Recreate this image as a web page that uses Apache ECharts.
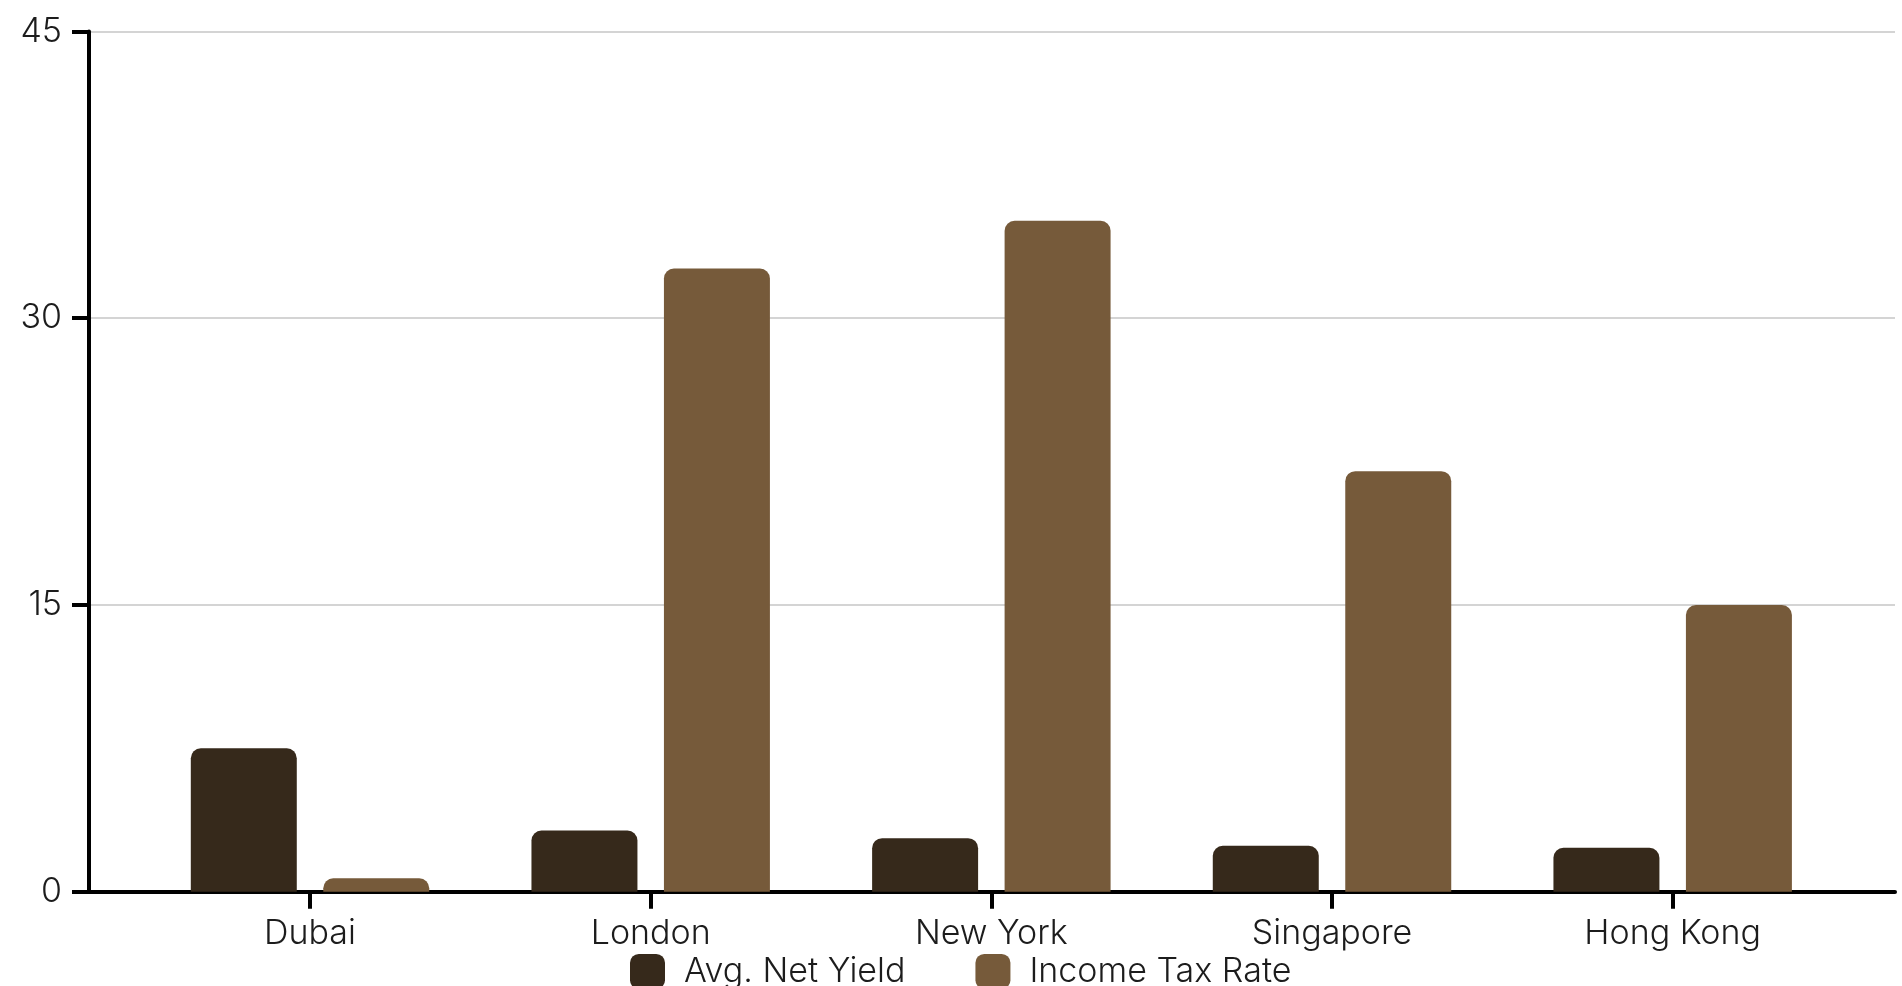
<!DOCTYPE html>
<html>
<head>
<meta charset="utf-8">
<title>Net Yield vs Income Tax</title>
<script src="https://cdn.jsdelivr.net/npm/echarts@6/dist/echarts.min.js"></script>
<style>
  html, body { margin: 0; padding: 0; background: #ffffff; }
  #chart { width: 1902px; height: 986px; }
</style>
</head>
<body>
<div id="chart"></div>
<script>
// Cities compared
const cities = ['Dubai', 'London', 'New York', 'Singapore', 'Hong Kong'];

// Series values (%)
const avgNetYield = [7.5, 3.2, 2.8, 2.4, 2.3];
const incomeTaxRate = [0.7, 32.6, 35.1, 22, 15];

// Value axis range and step
const yMin = 0;
const yMax = 45;
const yStep = 15;

const seriesNames = ['Avg. Net Yield', 'Income Tax Rate'];
const colors = ['#36291b', '#765a3a'];

const FONT = 'Inter, Lato, "Open Sans", sans-serif';
const FONT_SIZE = 34;
const TEXT = '#1c1c1c';

const chart = echarts.init(document.getElementById('chart'), null, { renderer: 'canvas' });

chart.setOption({
  animation: false,
  backgroundColor: '#ffffff',
  color: colors,
  grid: [
    // frame grid: y axis, gridlines and the full-width baseline
    { left: 89, right: 7, top: 31.5, bottom: 94.3, containLabel: false },
    // inner grid holding the category bands and bars
    { left: 139.7, right: 59, top: 31.5, bottom: 94.3, containLabel: false }
  ],
  legend: {
    data: seriesNames,
    left: 630,
    top: 951,
    padding: 0,
    itemWidth: 35,
    itemHeight: 35,
    itemGap: 70,
    icon: 'roundRect',
    textStyle: {
      fontFamily: FONT,
      fontWeight: 300,
      fontSize: FONT_SIZE,
      lineHeight: 35,
      color: TEXT,
      padding: [0, 0, 6, 14]
    }
  },
  xAxis: [
    {
      gridIndex: 0,
      type: 'value',
      min: 0,
      max: 1,
      axisLine: { show: true, lineStyle: { color: '#000', width: 4 } },
      axisTick: { show: false },
      axisLabel: { show: false },
      splitLine: { show: false }
    },
    {
      gridIndex: 1,
      type: 'category',
      data: cities,
      axisLine: { show: false },
      axisTick: {
        show: true,
        alignWithLabel: true,
        length: 17,
        lineStyle: { color: '#000', width: 4 }
      },
      axisLabel: {
        margin: 25,
        fontFamily: FONT,
        fontWeight: 300,
        fontSize: FONT_SIZE,
        color: TEXT
      },
      splitLine: { show: false }
    }
  ],
  yAxis: [
    {
      gridIndex: 0,
      type: 'value',
      min: yMin,
      max: yMax,
      interval: yStep,
      axisLine: { show: true, lineStyle: { color: '#000', width: 4 } },
      axisTick: { show: true, length: 17, lineStyle: { color: '#000', width: 4 } },
      axisLabel: {
        margin: 27,
        fontFamily: FONT,
        fontWeight: 300,
        fontSize: FONT_SIZE,
        color: TEXT
      },
      splitLine: { show: true, lineStyle: { color: '#d4d4d4', width: 2 } }
    },
    {
      gridIndex: 1,
      type: 'value',
      min: yMin,
      max: yMax,
      interval: yStep,
      show: false,
      splitLine: { show: false }
    }
  ],
  series: [
    {
      name: seriesNames[0],
      type: 'bar',
      xAxisIndex: 1,
      yAxisIndex: 1,
      data: avgNetYield,
      barCategoryGap: '30%',
      barGap: '25%',
      itemStyle: { color: colors[0], borderRadius: [10, 10, 0, 0] }
    },
    {
      name: seriesNames[1],
      type: 'bar',
      xAxisIndex: 1,
      yAxisIndex: 1,
      data: incomeTaxRate,
      barCategoryGap: '30%',
      barGap: '25%',
      itemStyle: { color: colors[1], borderRadius: [10, 10, 0, 0] }
    }
  ]
});
</script>
</body>
</html>
